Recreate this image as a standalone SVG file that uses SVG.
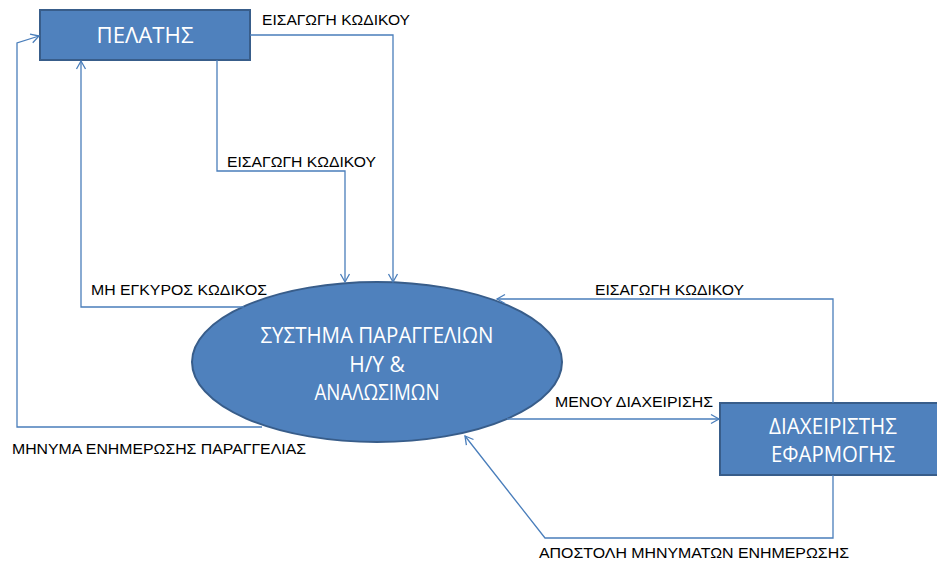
<svg xmlns="http://www.w3.org/2000/svg" width="937" height="563" viewBox="0 0 937 563">
<style>
.node{fill:#4F81BD;stroke:#385D8A;stroke-width:2}
.ntext{font-family:"Open Sans","Noto Sans",sans-serif;font-size:21px;fill:#ffffff;text-anchor:middle}
.conn{fill:none;stroke:#4A7EBB;stroke-width:1.3}
.lbl{font-family:"Liberation Sans",Arial,sans-serif;font-size:14.5px;fill:#000000}
</style>
<defs>
<marker id="arr" markerUnits="userSpaceOnUse" markerWidth="12" markerHeight="12" refX="9" refY="5" orient="auto" viewBox="0 0 12 10">
<path d="M1,0.5 L9,5 L1,9.5" fill="none" stroke="#4A7EBB" stroke-width="1.3"/>
</marker>
</defs>
<rect width="937" height="563" fill="#ffffff"/>
<g id="pelatis">
<rect class="node" x="40" y="10" width="210" height="50"/>
<text class="ntext" x="145" y="43" textLength="97" lengthAdjust="spacingAndGlyphs">ΠΕΛΑΤΗΣ</text>
</g>
<g id="systima">
<ellipse class="node" cx="377" cy="362" rx="185" ry="80"/>
<text class="ntext" x="377" y="343" textLength="233" lengthAdjust="spacingAndGlyphs">ΣΥΣΤΗΜΑ ΠΑΡΑΓΓΕΛΙΩΝ</text>
<text class="ntext" x="377" y="372">Η/Υ &amp;</text>
<text class="ntext" x="377" y="400" textLength="125" lengthAdjust="spacingAndGlyphs">ΑΝΑΛΩΣΙΜΩΝ</text>
</g>
<g id="diaxeiristis">
<rect class="node" x="720" y="403" width="226" height="72"/>
<text class="ntext" x="833" y="434" textLength="128" lengthAdjust="spacingAndGlyphs">ΔΙΑΧΕΙΡΙΣΤΗΣ</text>
<text class="ntext" x="833" y="462" textLength="124" lengthAdjust="spacingAndGlyphs">ΕΦΑΡΜΟΓΗΣ</text>
</g>
<g id="connectors">
<polyline class="conn" points="250,35 393,35 393,282" marker-end="url(#arr)"/>
<polyline class="conn" points="217,60 217,171 345,171 345,282" marker-end="url(#arr)"/>
<polyline class="conn" points="244,307 81,307 81,61" marker-end="url(#arr)"/>
<polyline class="conn" points="262,427 17,427 17,43 39,36" marker-end="url(#arr)"/>
<polyline class="conn" points="833,403 833,299 497,299" marker-end="url(#arr)"/>
<polyline class="conn" points="507,419 719,419" marker-end="url(#arr)"/>
<polyline class="conn" points="833,475 833,538 545,538 465,436" marker-end="url(#arr)"/>
</g>
<g id="labels">
<text class="lbl" x="262" y="25" textLength="148" lengthAdjust="spacingAndGlyphs">ΕΙΣΑΓΩΓΗ ΚΩΔΙΚΟΥ</text>
<text class="lbl" x="227" y="167" textLength="149" lengthAdjust="spacingAndGlyphs">ΕΙΣΑΓΩΓΗ ΚΩΔΙΚΟΥ</text>
<text class="lbl" x="91" y="295" textLength="176" lengthAdjust="spacingAndGlyphs">ΜΗ ΕΓΚΥΡΟΣ ΚΩΔΙΚΟΣ</text>
<text class="lbl" x="12" y="454" textLength="294" lengthAdjust="spacingAndGlyphs">ΜΗΝΥΜΑ ΕΝΗΜΕΡΩΣΗΣ ΠΑΡΑΓΓΕΛΙΑΣ</text>
<text class="lbl" x="595" y="295" textLength="149" lengthAdjust="spacingAndGlyphs">ΕΙΣΑΓΩΓΗ ΚΩΔΙΚΟΥ</text>
<text class="lbl" x="555" y="407" textLength="158" lengthAdjust="spacingAndGlyphs">ΜΕΝΟΥ ΔΙΑΧΕΙΡΙΣΗΣ</text>
<text class="lbl" x="539" y="558" textLength="310" lengthAdjust="spacingAndGlyphs">ΑΠΟΣΤΟΛΗ ΜΗΝΥΜΑΤΩΝ ΕΝΗΜΕΡΩΣΗΣ</text>
</g>
</svg>
